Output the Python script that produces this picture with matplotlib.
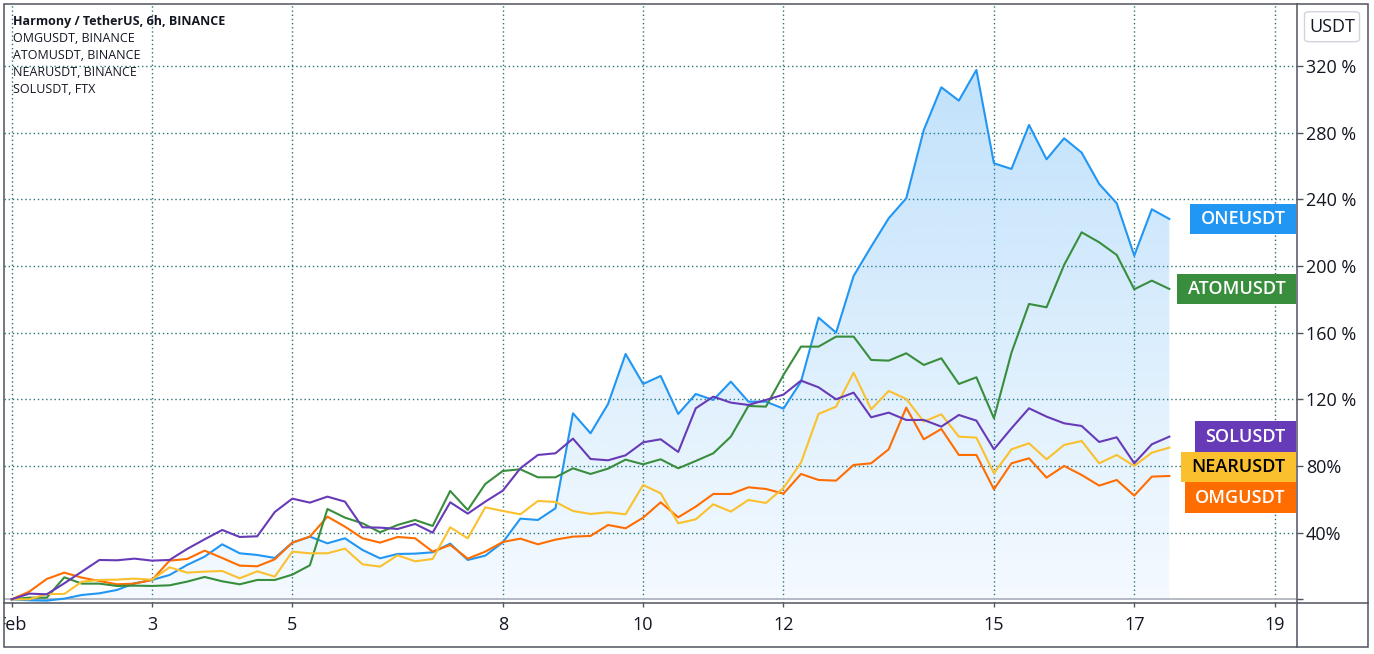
import matplotlib
matplotlib.use("Agg")
import matplotlib.pyplot as plt
import matplotlib.dates as mdates
from matplotlib.patches import Rectangle, FancyBboxPatch
from matplotlib.lines import Line2D
import numpy as np
import pandas as pd

plt.rcParams['font.family'] = ['Open Sans', 'DejaVu Sans']

# 6h candles from Feb 1, % change vs first bar
times = pd.date_range("2021-02-01", periods=67, freq="6h")

one = [0, -0.6, -0.8, 0.4, 2.6, 3.6, 5.6, 9.6, 11.6, 14.6, 20.6, 25.6, 33, 27.6, 26.6, 24.8,
       34, 37.6, 33.6, 36.6, 29.6, 24.6, 27.2, 27.4, 28.2, 33.4,
       23.6, 26.2, 34.2, 48.4, 47.6, 54.6, 111.6, 99.6, 117.2, 147.2, 129.2, 134, 111.2, 123.2,
       119.6, 130.6, 118.6, 118.6, 114.4, 130.6,
       169, 160, 194, 211.6, 228.6, 240.6, 281.6, 307.2, 299.2, 317.6, 261.6, 258.2, 284.6, 264,
       276.6, 268, 249.2, 237.6, 206.2, 234, 228.2]
atom = [0, 1, 1, 13.2, 9.4, 9.4, 8, 8.2, 8, 8.4, 10.6, 13.4, 10.8, 9, 11.6, 11.6,
        14.8, 20.4, 54.2, 49, 45.6, 40.2, 44.6, 47.6, 44, 65,
        53.6, 69.2, 77, 78, 73.2, 73.2, 78.6, 75.2, 78.4, 83.8, 81, 84, 78.6, 83, 87.6, 97.6,
        116, 115.6, 134.6, 151.6, 151.6, 157.6, 157.6, 143.6, 143.2, 147.6, 140.6, 144.6, 129.2,
        133.2, 108.6, 148, 177.2, 175.2, 200.6, 220.2, 214.2, 206.6, 186, 191.2, 186.2]
sol = [0, 3.4, 3, 9.6, 16.6, 23.6, 23.4, 24.4, 23.2, 23.6, 30.2, 36, 41.6, 37.4, 37.8, 52.4,
       60.4, 58, 61.6, 58.6, 43.2, 43, 42.2, 45.2, 40, 58.2,
       51.4, 58.6, 65.2, 78.6, 86.6, 87.6, 96.4, 84.2, 83.4, 86.4, 94.2, 96, 88.4, 114.6, 121.6,
       118, 116.6, 119.6, 122.8, 131.2, 127.2, 120, 124, 109.2, 112, 107.6, 107.6, 103.6, 110.6,
       107.2, 90, 102.6, 114.6, 109.6, 105.6, 104, 94.4, 97.2, 81.6, 93, 97.6]
near = [0, 0, 3.2, 3.2, 10.6, 11.6, 11.8, 12.4, 11.8, 19.2, 16, 16.6, 17, 12.6, 16.8, 13.6,
        28.6, 27.6, 27.6, 30.4, 21, 19.6, 26.4, 22.8, 24.2, 43.2,
        36.6, 55.2, 53, 51, 59, 58.4, 53, 51.2, 52.2, 51, 68.6, 63.6, 45.6, 48, 57, 52.6, 59.6,
        57.8, 66.8, 82, 111.2, 115.6, 136, 114, 125, 120.2, 106.6, 111, 97.6, 97, 75.6, 90, 93.6,
        84, 92.6, 95, 81.6, 86.6, 80, 88, 91]
omg = [0, 4.6, 12.2, 16, 13, 11, 9, 9.4, 11.6, 23.2, 24.2, 29.2, 24.8, 20.2, 19.8, 24,
       34, 37.6, 49.6, 43.6, 36.6, 34, 37.4, 36.6, 28.6, 32.6,
       24.4, 28.6, 34.4, 36.4, 33, 35.8, 37.6, 38, 44.6, 42.6, 49, 58.2, 49.2, 55.6, 63.2, 63.2,
       67.2, 66.2, 63.4, 75.2, 71.6, 71.2, 80.6, 81.6, 90, 115, 96, 102.2, 86.6, 86.6, 66, 81.6,
       84.6, 73, 80, 74.6, 68.2, 71.6, 62.2, 73.6, 74]

tick_days = ["2021-02-01", "2021-02-03", "2021-02-05", "2021-02-08", "2021-02-10",
             "2021-02-12", "2021-02-15", "2021-02-17", "2021-02-19"]
tick_text = ["Feb", "3", "5", "8", "10", "12", "15", "17", "19"]
y_ticks = [0, 40, 80, 120, 160, 200, 240, 280, 320]

legend_lines = ["Harmony / TetherUS, 6h, BINANCE", "OMGUSDT, BINANCE", "ATOMUSDT, BINANCE",
                "NEARUSDT, BINANCE", "SOLUSDT, FTX"]

BLUE, GREEN, PURPLE, YELLOW, ORANGE = "#2196f3", "#388e3c", "#673ab7", "#fbc02d", "#ff6d00"
FRAME = "#50535e"
GRID = "#2b7373"
TXT = "#131722"

W, H = 1374, 654
fig = plt.figure(figsize=(W / 100, H / 100), dpi=100)
fig.patch.set_facecolor("white")

def fx(px):
    return px / W

def fy(py):
    return 1 - py / H

L, R, T, B, BB, RR = 4, 1297, 4, 603.3, 646.5, 1368
ax = fig.add_axes([fx(L), fy(B), fx(R - L), fy(T) - fy(B)])
tax = fig.add_axes([fx(L), fy(BB), fx(R - L), fy(B) - fy(BB)], sharex=ax)

x = mdates.date2num(times)
x0 = mdates.date2num(pd.Timestamp("2021-02-01"))
px_day = 70.16
ax.set_xlim(x0 - (11.7 - L) / px_day, x0 + (R - 11.7) / px_day)
px_pct = 1.6667
ax.set_ylim(-(B - 599.3) / px_pct, (599.3 - T) / px_pct)

# grid
tx = mdates.date2num(pd.to_datetime(tick_days))
for v in tx:
    ax.axvline(v, color=GRID, lw=1, ls=(0, (1, 2)), zorder=0)
for v in y_ticks[1:]:
    ax.axhline(v, color=GRID, lw=1, ls=(0, (1, 2)), zorder=0)
ax.axhline(0, color="#b2b5be", lw=1.3, zorder=1)

# gradient area under ONE
fill = ax.fill_between(x, one, 0, color="none", lw=0)
ylo, yhi = ax.get_ylim()
grad = np.zeros((256, 1, 4))
rgb = matplotlib.colors.to_rgb(BLUE)
grad[..., 0], grad[..., 1], grad[..., 2] = rgb
grad[:, 0, 3] = np.linspace(0.28, 0.05, 256)
im = ax.imshow(grad, extent=[x[0], x[-1], 0, max(one)], aspect="auto", origin="upper", zorder=1)
im.set_clip_path(fill.get_paths()[0], transform=ax.transData)
ax.set_xlim(x0 - (11.7 - L) / px_day, x0 + (R - 11.7) / px_day)
ax.set_ylim(ylo, yhi)

lw = 1.5
ax.plot(x, one, color=BLUE, lw=lw, zorder=3)
ax.plot(x, omg, color=ORANGE, lw=lw, zorder=3)
ax.plot(x, atom, color=GREEN, lw=lw, zorder=3)
ax.plot(x, near, color=YELLOW, lw=lw, zorder=3)
ax.plot(x, sol, color=PURPLE, lw=lw, zorder=3)

for s in ax.spines.values():
    s.set_visible(False)
ax.set_facecolor("none")
ax.yaxis.tick_right()
ax.set_yticks(y_ticks)
ax.set_yticklabels([""] + [f"{v} %" if v >= 100 else f"{v}%" for v in y_ticks[1:]])
ax.tick_params(axis="y", length=4.5, width=1, color=FRAME, pad=2, labelsize=13, labelcolor=TXT)
ax.set_xticks(tx)
ax.tick_params(axis="x", length=3, width=1, color=FRAME, labelbottom=False)

tax.axis("off")
for v, t in zip(tx, tick_text):
    tax.text(v, 0.5, t, ha="center", va="center", fontsize=13, color=TXT, clip_on=True,
             transform=tax.get_xaxis_transform())

# frame and separators
fig.add_artist(Rectangle((fx(L), fy(BB)), fx(RR - L), fy(T) - fy(BB), transform=fig.transFigure,
                         fill=False, ec=FRAME, lw=1.1))
fig.add_artist(Line2D([fx(R), fx(R)], [fy(T), fy(BB)], color=FRAME, lw=1.1))
fig.add_artist(Line2D([fx(L), fx(RR)], [fy(B), fy(B)], color=FRAME, lw=1.1))

# USDT box
fig.add_artist(FancyBboxPatch((fx(1304.5), fy(41.7)), fx(55), fy(11.7) - fy(41.7),
                              boxstyle="round,pad=0,rounding_size=0.004",
                              transform=fig.transFigure, fc="white", ec="#d1d4dc", lw=1))
fig.text(fx(1332), fy(27), "USDT", ha="center", va="center", fontsize=13, color=TXT)

# legend lines top-left
for i, s in enumerate(legend_lines):
    fig.text(fx(13), fy(21.5 + 17 * i), s, ha="left", va="center", fontsize=9, color=TXT,
             fontweight="bold" if i == 0 else "normal")

# right-side series labels, stacked to avoid overlap
labels = [("ONEUSDT", one[-1], BLUE, "white"), ("ATOMUSDT", atom[-1], GREEN, "white"),
          ("SOLUSDT", sol[-1], PURPLE, "white"), ("NEARUSDT", near[-1], YELLOW, "black"),
          ("OMGUSDT", omg[-1], ORANGE, "white")]
box_h = 30.5 / px_pct
labels.sort(key=lambda t: -t[1])
prev = None
renderer = fig.canvas.get_renderer()
for name, val, c, tc in labels:
    yv = val if prev is None else min(val, prev - box_h)
    prev = yv
    ypx = 599.3 - yv * px_pct
    t = fig.text(fx(1296 - 10.5), fy(ypx), name, ha="right", va="center", fontsize=13,
                 fontweight="semibold", color=tc, zorder=6)
    bb = t.get_window_extent(renderer)
    wpx = bb.width + 21
    fig.add_artist(Rectangle((fx(1296 - wpx), fy(ypx + 15.3)), fx(wpx), fy(ypx - 15.3) - fy(ypx + 15.3),
                             transform=fig.transFigure, fc=c, ec="none", zorder=5))

fig.savefig("out.png", dpi=100)
